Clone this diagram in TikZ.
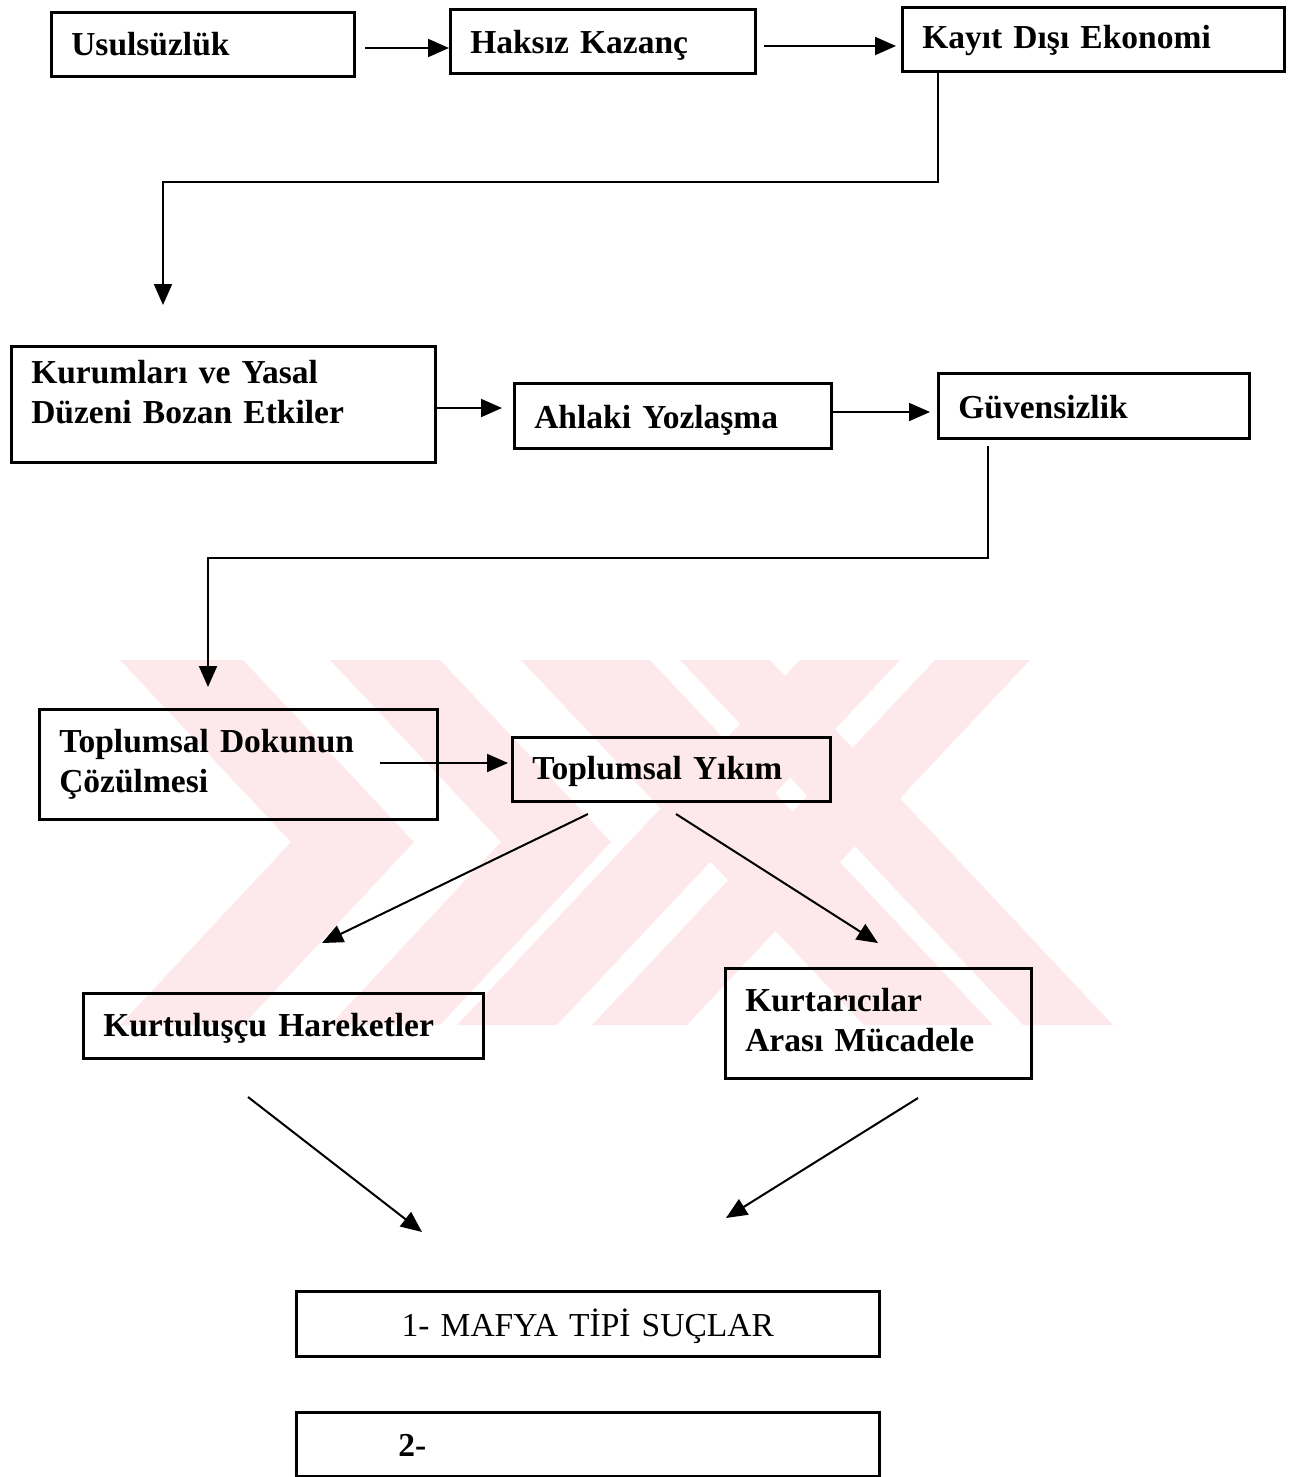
\documentclass[tikz,border=0pt]{standalone}
\usepackage{fontspec}
\setmainfont{Liberation Serif}
\usetikzlibrary{arrows.meta}
\definecolor{wm}{RGB}{253,232,236}
\newcommand{\bxtext}[3]{\rule{0pt}{#1pt}#3\rule[-#2pt]{0pt}{0pt}}
\begin{document}
\begin{tikzpicture}[x=1pt,y=-1pt,
  bx/.style={draw, line width=2.6pt, anchor=north west, inner xsep=20pt, inner ysep=0pt,
    align=left, font=\bfseries\fontsize{33.5}{40}\selectfont},
  bxreg/.style={bx, align=center, font=\fontsize{33.5}{40}\selectfont},
  arr/.style={line width=2pt, -{Triangle[length=21pt,width=18pt]}},
  wmark/.style={fill=wm, draw=none}]
\useasboundingbox (0,0) rectangle (1293,1477);
% watermark
\fill[wmark] (120,660) -- (243,660) -- (414,842) -- (243,1025) -- (120,1025) -- (291,842) -- cycle;
\fill[wmark] (330,660) -- (440,660) -- (611,842) -- (440,1025) -- (330,1025) -- (501,842) -- cycle;
\fill[wmark] (521,660) -- (650,660) -- (993,1025) -- (864,1025) -- cycle;
\fill[wmark] (680,660) -- (770,660) -- (1113,1025) -- (1023,1025) -- cycle;
\fill[wmark] (800,660) -- (900,660) -- (557,1025) -- (457,1025) -- cycle;
\fill[wmark] (935,660) -- (1030,660) -- (687,1025) -- (592,1025) -- cycle;
% boxes
\node[bx, text width=263pt] (u) at (50,11) {\bxtext{43}{21}{Usulsüzlük}};
\node[bx, text width=265pt] (h) at (449,8) {\bxtext{44}{20}{Haksız Kazanç}};
\node[bx, text width=342pt] (k) at (901,6) {\bxtext{41}{23}{Kayıt Dışı Ekonomi}};
\node[bx, text width=384pt] (kr) at (10,345) {\bxtext{37}{39}{Kurumları ve Yasal\\Düzeni Bozan Etkiler}};
\node[bx, text width=277pt] (ah) at (513,382) {\bxtext{45}{20}{Ahlaki Yozlaşma}};
\node[bx, text width=271pt] (gv) at (937,372) {\bxtext{45}{20}{Güvensizlik}};
\node[bx, text width=358pt] (td) at (38,708) {\bxtext{43}{27}{Toplumsal Dokunun\\Çözülmesi}};
\node[bx, text width=278pt] (ty) at (511,736) {\bxtext{42}{22}{Toplumsal Yıkım}};
\node[bx, text width=360pt] (kh) at (82,992) {\bxtext{43}{22}{Kurtuluşçu Hareketler}};
\node[bx, text width=266pt] (km) at (724,967) {\bxtext{43}{27}{Kurtarıcılar\\Arası Mücadele}};
\node[bxreg, text width=543pt] (m1) at (295,1290) {\bxtext{45}{20}{1- MAFYA TİPİ SUÇLAR}};
\node[bx, text width=543pt] (m2) at (295,1411) {\bxtext{44}{20}{\hspace*{82pt}2-}};
% connector coordinates
\coordinate (a1s) at (365,48);
\coordinate (a2s) at (764,46);
\coordinate (b1) at (938,182);
\coordinate (b2) at (163,182);
\coordinate (t1) at (163,305);
\coordinate (a3s) at (437,408);
\coordinate (a3e) at (502,408);
\coordinate (a4s) at (833,412);
\coordinate (a4e) at (930,412);
\coordinate (c0) at (988,446);
\coordinate (c1) at (988,558);
\coordinate (c2) at (208,558);
\coordinate (t2) at (208,687);
\coordinate (a5s) at (380,763);
\coordinate (a5e) at (508,763);
\coordinate (a6s) at (588,814);
\coordinate (a6e) at (322,943);
\coordinate (a7s) at (676,814);
\coordinate (a7e) at (878,943);
\coordinate (a8s) at (248,1097);
\coordinate (a8e) at (422,1232);
\coordinate (a9s) at (918,1098);
\coordinate (a9e) at (726,1218);
% connectors
\draw[arr] (a1s) -- (a1s -| h.west);
\draw[arr] (a2s) -- ([xshift=-5pt]a2s -| k.west);
\draw[arr] (b1 |- k.south) -- (b1) -- (b2) -- (t1);
\draw[arr] (a3s) -- (a3e);
\draw[arr] (a4s) -- (a4e);
\draw[arr] (c0) -- (c1) -- (c2) -- (t2);
\draw[arr] (a5s) -- (a5e);
\draw[arr] (a6s) -- (a6e);
\draw[arr] (a7s) -- (a7e);
\draw[arr] (a8s) -- (a8e);
\draw[arr] (a9s) -- (a9e);
\end{tikzpicture}
\end{document}
